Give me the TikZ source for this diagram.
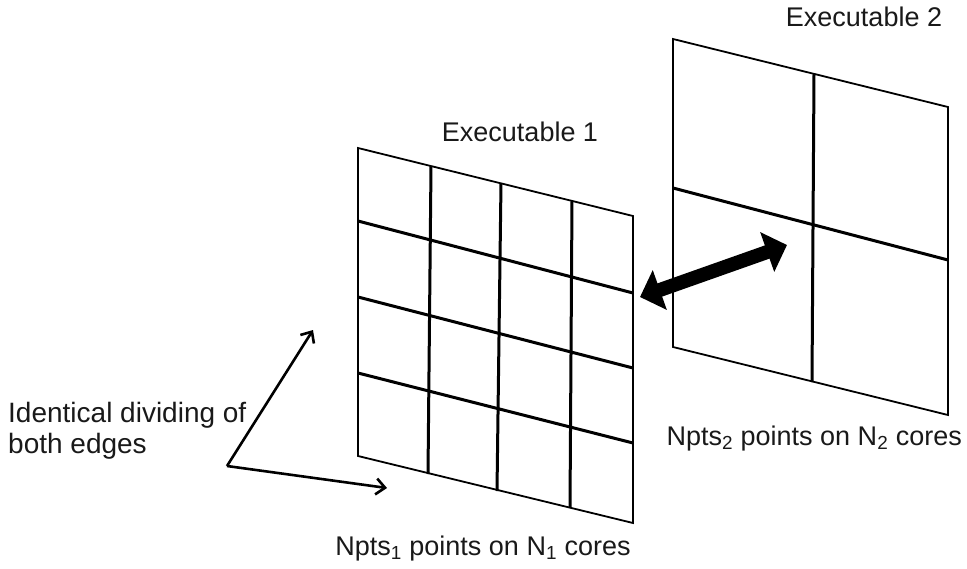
\documentclass[tikz,border=0pt]{standalone}
\usepackage{fontspec}
\setmainfont{Liberation Sans}
\usetikzlibrary{arrows.meta}
\tikzset{
  border/.style={line width=1.8pt, line join=miter},
  divline/.style={line width=3pt},
  label/.style={inner sep=0pt, font=\fontsize{27pt}{31pt}\selectfont, text=black!90},
  pointer/.style={line width=2.6pt, -{Straight Barb[length=9pt,width=16pt,line width=2.6pt]}},
  bigarrow/.style={line width=14pt, {Triangle[width=41pt,length=21pt]}-{Triangle[width=41pt,length=21pt]}}
}
\begin{document}
\begin{tikzpicture}[x=1pt,y=-1pt]
\useasboundingbox (0,0) rectangle (967,568);
% ---- grid 1 corners
\coordinate (g1tl) at (358,148);
\coordinate (g1tr) at (633,216);
\coordinate (g1bl) at (358,456);
\coordinate (g1br) at (633,523);
% interior lines grid 1
\foreach \xt/\xb/\yt/\yb in {431/428/166/474, 501/497/183/491, 572/570/201/507}
  \draw[divline] (\xt,\yt) -- (\xb,\yb);
\foreach \yl/\yr in {221/293, 297/368, 373/443}
  \draw[divline] (358,\yl) -- (633,\yr);
\draw[border] (g1tl) -- (g1tr) -- (g1br) -- (g1bl) -- cycle;
% ---- grid 2 corners
\coordinate (g2tl) at (673,39);
\coordinate (g2tr) at (948,107);
\coordinate (g2bl) at (673,347);
\coordinate (g2br) at (948,415);
\draw[divline] (814,74) -- (812,382);
\draw[divline] (673,188) -- (948,260);
\draw[border] (g2tl) -- (g2tr) -- (g2br) -- (g2bl) -- cycle;
% ---- labels
\node[label, anchor=base] (ex1) at (520,141) {Executable 1};
\node[label, anchor=base] (ex2) at (864,26) {Executable 2};
\node[label, anchor=base] (np1) at (483,555) {Npts\textsubscript{1} points on N\textsubscript{1} cores};
\node[label, anchor=base east] (np2) at (962,445) {Npts\textsubscript{2} points on N\textsubscript{2} cores};
\node[label, anchor=west, align=left, font=\fontsize{28pt}{31pt}\selectfont] (ident) at (8,430.5) {Identical dividing of\\both edges};
% ---- pointer arrows
\coordinate (piv) at (227,466);
\coordinate (t1) at (313,330);
\coordinate (t2) at (387,488);
\draw[pointer] (piv) -- (t1);
\draw[pointer] (piv) -- (t2);
% ---- double arrow
\coordinate (dl) at (640,297);
\coordinate (dr) at (787,245);
\draw[bigarrow] (dl) -- (dr);
\end{tikzpicture}
\end{document}
